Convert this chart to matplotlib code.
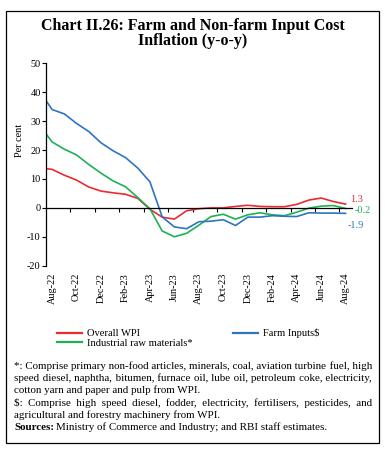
import matplotlib
matplotlib.use('Agg')
import matplotlib.pyplot as plt
from matplotlib.patches import Rectangle
import numpy as np
import itertools

months = ['Jul-22', 'Aug-22', 'Sep-22', 'Oct-22', 'Nov-22', 'Dec-22', 'Jan-23', 'Feb-23',
          'Mar-23', 'Apr-23', 'May-23', 'Jun-23', 'Jul-23', 'Aug-23', 'Sep-23', 'Oct-23',
          'Nov-23', 'Dec-23', 'Jan-24', 'Feb-24', 'Mar-24', 'Apr-24', 'May-24', 'Jun-24',
          'Jul-24', 'Aug-24']
wpi = [13.9, 13.3, 11.3, 9.6, 7.2, 5.8, 5.2, 4.7, 3.3, -0.5, -3.2, -3.9, -1.0, -0.3,
       0.0, 0.0, 0.5, 0.9, 0.5, 0.4, 0.4, 1.2, 2.7, 3.4, 2.2, 1.3]
farm = [40.2, 34.0, 32.5, 29.2, 26.4, 22.5, 19.7, 17.4, 13.8, 9.0, -3.1, -6.6, -7.2, -4.8,
        -4.6, -4.1, -6.1, -3.2, -3.2, -2.7, -2.9, -3.0, -1.7, -1.8, -1.8, -1.9]
ind = [28.4, 22.8, 20.3, 18.3, 15.0, 12.0, 9.3, 7.3, 3.6, -0.3, -8.0, -10.0, -8.8, -6.0,
       -3.0, -2.2, -3.9, -2.4, -1.7, -2.4, -2.7, -1.5, -0.1, 0.6, 0.8, -0.2]
series_names = ['Overall WPI', 'Industrial raw materials*', 'Farm Inputs$']
yticks = [-20, -10, 0, 10, 20, 30, 40, 50]

title1 = 'Chart II.26: Farm and Non-farm Input Cost'
title2 = 'Inflation (y-o-y)'
notes = [
    ('*: Comprise primary non-food articles, minerals, coal, aviation turbine fuel, high', True),
    ('speed diesel, naphtha, bitumen, furnace oil, lube oil, petroleum coke, electricity,', True),
    ('cotton yarn and paper and pulp from WPI.', False),
    ('$: Comprise high speed diesel, fodder, electricity, fertilisers, pesticides, and', True),
    ('agricultural and forestry machinery from WPI.', False),
]
source_bold = 'Sources:'
source_rest = 'Ministry of Commerce and Industry; and RBI staff estimates.'

RED, GREEN, BLUE = '#EC2A30', '#1DB153', '#2E75C0'
FONT = 'Liberation Serif'
plt.rcParams['font.family'] = [FONT, 'DejaVu Serif']

W, H = 385, 449
fig = plt.figure(figsize=(W / 100, H / 100), dpi=100)
fig.patch.set_facecolor('white')

ax = fig.add_axes([46 / W, 1 - 265.7 / H, (351.7 - 46) / W, (265.7 - 63.3) / H])
x = np.arange(len(months)) - 1  # Jul-22 sits just left of the axis

l_wpi, = ax.plot(x, wpi, color=RED, lw=1.2)
l_ind, = ax.plot(x, ind, color=GREEN, lw=1.2)
l_farm, = ax.plot(x, farm, color=BLUE, lw=1.2)

ax.set_xlim(-0.5, len(months) - 1.5)
ax.set_ylim(-20, 50)
ax.set_yticks(yticks)
ax.set_yticklabels([str(v) for v in yticks])
ax.tick_params(axis='y', direction='out', length=3, width=0.8, pad=0.8, labelsize=7.4)

ax.spines['top'].set_visible(False)
ax.spines['right'].set_visible(False)
ax.spines['bottom'].set_position(('data', 0))
ax.spines['left'].set_linewidth(0.9)
ax.spines['bottom'].set_linewidth(0.9)
ax.set_xticks(np.arange(1.5, len(months) - 2, 2))
ax.tick_params(axis='x', direction='out', length=3, width=0.8, labelbottom=False)

for i, m in enumerate(months):
    if i >= 1 and (i - 1) % 2 == 0:
        ax.text(x[i], -0.035, m, transform=ax.get_xaxis_transform(), rotation=90,
                ha='center', va='top', fontsize=7.4)

ax.set_ylabel('Per cent', fontsize=7.4, labelpad=0)
ax.yaxis.set_label_coords(-0.072, 0.62)

# end labels
ax.annotate(f'{wpi[-1]:.1f}', (x[-1], wpi[-1]), xytext=(5, 5), textcoords='offset pixels',
            color=RED, fontsize=7.4, ha='left', va='center', annotation_clip=False)
ax.annotate(f'{ind[-1]:.1f}', (x[-1], ind[-1]), xytext=(9, -2), textcoords='offset pixels',
            color=GREEN, fontsize=7.4, ha='left', va='center', annotation_clip=False)
ax.annotate(f'{farm[-1]:.1f}', (x[-1], farm[-1]), xytext=(2, -12), textcoords='offset pixels',
            color=BLUE, fontsize=7.4, ha='left', va='center', annotation_clip=False)

# legend
leg = fig.legend([l_wpi, l_ind, l_farm], series_names, ncol=2, frameon=False,
                 loc='upper left', bbox_to_anchor=(57 / W, 1 - 328.5 / H),
                 borderpad=0, borderaxespad=0, handlelength=2.4, handletextpad=0.45,
                 columnspacing=3.8, labelspacing=0.0, fontsize=7.6)
for lh in leg.get_lines():
    lh.set_linewidth(1.6)

# title
fig.text(192.5 / W, 1 - 30.5 / H, title1, ha='center', va='baseline', fontsize=11.5,
         fontweight='bold')
fig.text(192.5 / W, 1 - 45 / H, title2, ha='center', va='baseline', fontsize=11.5,
         fontweight='bold')

# frame
fig.add_artist(Rectangle((6 / W, 1 - 442.7 / H), (379 - 6) / W, (442.7 - 10.7) / H,
                         transform=fig.transFigure, fill=False, edgecolor='black', lw=0.9))

# notes (justified with unicode spaces inside a single text per line)
fig.canvas.draw()
r = fig.canvas.get_renderer()
NFS = 7.9
X0, X1 = 14, 372


def width(s, **kw):
    t = fig.text(0, 0, 'x' + s + 'x', fontsize=NFS, **kw)
    w = t.get_window_extent(r).width
    t.remove()
    t2 = fig.text(0, 0, 'xx', fontsize=NFS, **kw)
    w2 = t2.get_window_extent(r).width
    t2.remove()
    return w - w2


sp = {' ': width(' '), '\u2009': width('\u2009'), '\u200a': width('\u200a')}
combos = []
for n1, n2, n3 in itertools.product(range(1, 4), range(0, 4), range(0, 5)):
    combos.append((' ' * n1 + '\u2009' * n2 + '\u200a' * n3,
                   n1 * sp[' '] + n2 * sp['\u2009'] + n3 * sp['\u200a']))


def textw(s):
    t = fig.text(0, 0, s, fontsize=NFS)
    w = t.get_window_extent(r).width
    t.remove()
    return w


ys = [369, 381, 393, 405.5, 417.5]
for (txt, just), yb in zip(notes, ys):
    if just:
        words = txt.split(' ')
        wws = [textw(w_) for w_ in words]
        gap = (X1 - X0 - sum(wws)) / (len(words) - 1)
        s = words[0]
        target = wws[0]
        for w_, ww in zip(words[1:], wws[1:]):
            target += gap
            need = target - textw(s)
            best = min(combos, key=lambda c: abs(c[1] - need))
            s += best[0] + w_
            target += ww
        txt = s
    fig.text(X0 / W, 1 - yb / H, txt, ha='left', va='baseline', fontsize=NFS)

yb = 429.5
tb = fig.text(X0 / W, 1 - yb / H, source_bold, ha='left', va='baseline', fontsize=NFS,
              fontweight='bold')
bw = tb.get_window_extent(r).width
fig.text((X0 + bw + 2.4) / W, 1 - yb / H, source_rest, ha='left', va='baseline', fontsize=NFS)

fig.savefig('out.png', dpi=100, facecolor='white')
